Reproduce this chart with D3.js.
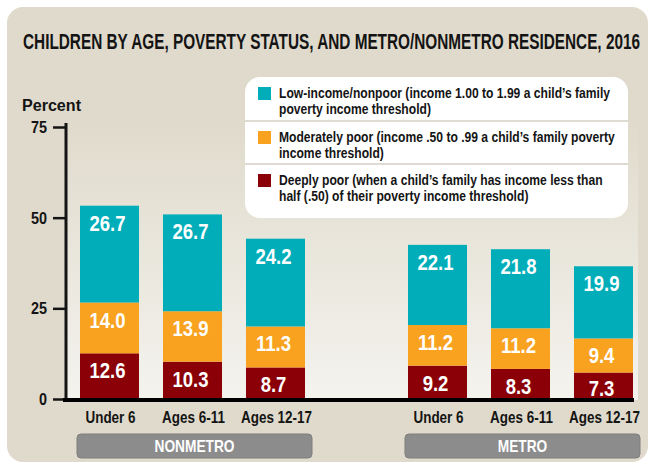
<!DOCTYPE html>
<html>
<head>
<meta charset="utf-8">
<script src="https://cdn.jsdelivr.net/npm/d3@7"></script>
<style>
  body { margin: 0; background: #fff; }
  svg { display: block; }
  text { font-family: "Liberation Sans", Arial, sans-serif; font-weight: bold; }
</style>
</head>
<body>
<svg width="650" height="466"></svg>
<script>
// chart data
var groups = ["NONMETRO", "METRO"];
var ages = ["Under 6", "Ages 6-11", "Ages 12-17"];
var deeplyPoor = [12.6, 10.3, 8.7, 9.2, 8.3, 7.3];
var moderatelyPoor = [14.0, 13.9, 11.3, 11.2, 11.2, 9.4];
var lowIncome = [26.7, 26.7, 24.2, 22.1, 21.8, 19.9];
var yTicks = [0, 25, 50, 75];
var seriesKeys = ["deep", "moderate", "low"];
var seriesColors = ["#8a0006", "#f8a21f", "#00adb9"];
var legendLines = [
    ["Low-income/nonpoor (income 1.00 to 1.99 a child\u2019s family", "poverty income threshold)"],
    ["Moderately poor (income .50 to .99 a child\u2019s family poverty", "income threshold)"],
    ["Deeply poor (when a child\u2019s family has income less than", "half (.50) of their poverty income threshold)"]
];
var legendColors = ["#00adb9", "#f8a21f", "#8a0006"];
var title = "CHILDREN BY AGE, POVERTY STATUS, AND METRO/NONMETRO RESIDENCE, 2016";

var rows = deeplyPoor.map(function(d, i) {
    return {
        group: groups[Math.floor(i / 3)],
        age: ages[i % 3],
        deep: deeplyPoor[i],
        moderate: moderatelyPoor[i],
        low: lowIncome[i]
    };
});

var svg = d3.select("svg");
var ink = "#141414";

// the original uses a condensed face, so measure a sample and squeeze to fit
function ratio(str, size, target) {
    var t = svg.append("text").attr("font-size", size).text(str);
    var w = t.node().getComputedTextLength();
    t.remove();
    return target / w;
}
function squeeze(sel, k) {
    sel.each(function() {
        var w = this.getComputedTextLength();
        d3.select(this).attr("textLength", w * k).attr("lengthAdjust", "spacingAndGlyphs");
    });
}

// beige panel + plot gradient
var defs = svg.append("defs");
var grad = defs.append("linearGradient").attr("id", "plotbg")
    .attr("x1", 0).attr("y1", 0).attr("x2", 0).attr("y2", 1);
grad.append("stop").attr("offset", "0%").attr("stop-color", "#dfdacb");
grad.append("stop").attr("offset", "100%").attr("stop-color", "#f4f3ee");

svg.append("rect").attr("x", 7).attr("y", 7).attr("width", 641).attr("height", 455)
    .attr("rx", 16).attr("fill", "#dfdacb");

// scales
var y = d3.scaleLinear().domain([0, 75]).range([399, 127]);
var xGroup = d3.scaleBand().domain(groups).range([80, 633]).paddingInner(0.314);
var xAge = d3.scaleBand().domain(ages).range([0, xGroup.bandwidth()]).paddingInner(0.289);
function xPos(d) { return xGroup(d.group) + xAge(d.age); }

svg.append("rect").attr("x", 66).attr("y", 118).attr("width", 572).attr("height", 282)
    .attr("fill", "url(#plotbg)");

// title
svg.append("text").attr("x", 23).attr("y", 49)
    .attr("font-size", 22).attr("fill", ink)
    .attr("textLength", 617).attr("lengthAdjust", "spacingAndGlyphs")
    .text(title);

svg.append("text").attr("x", 22).attr("y", 111)
    .attr("font-size", 16).attr("fill", ink).text("Percent")
    .call(squeeze, ratio("Percent", 16, 59));

// y axis
var yAxis = d3.axisLeft(y).tickValues(yTicks).tickSize(13).tickPadding(6);
var gy = svg.append("g").attr("transform", "translate(66,0)").call(yAxis);
gy.select(".domain").remove();
gy.selectAll(".tick line").attr("stroke", ink).attr("stroke-width", 2.5);
gy.selectAll(".tick text").attr("font-size", 17).attr("fill", ink)
    .attr("font-family", "Liberation Sans").attr("font-weight", "bold")
    .call(squeeze, ratio("75", 17, 16));
svg.append("line").attr("x1", 66).attr("x2", 66).attr("y1", 123).attr("y2", 400)
    .attr("stroke", ink).attr("stroke-width", 3);

// stacked bars
var stacked = d3.stack().keys(seriesKeys)(rows);
var layers = svg.selectAll("g.layer").data(stacked).enter().append("g")
    .attr("class", "layer")
    .attr("fill", function(d, i) { return seriesColors[i]; });

layers.selectAll("rect").data(function(d) { return d; }).enter().append("rect")
    .attr("x", function(d) { return xPos(d.data); })
    .attr("width", xAge.bandwidth())
    .attr("y", function(d) { return y(d[1]); })
    .attr("height", function(d) { return y(d[0]) - y(d[1]); });

var fmt = d3.format(".1f");
var valK = ratio("26.7", 22, 36);
layers.selectAll("text").data(function(d) { return d; }).enter().append("text")
    .attr("x", function(d) { return xPos(d.data) + xAge.bandwidth() / 2 - 2; })
    .attr("y", function(d) { return Math.min(y(d[1]) + 25, y(d[0]) - 3); })
    .attr("text-anchor", "middle")
    .attr("font-size", 22).attr("fill", "#fff")
    .text(function(d) { return fmt(d[1] - d[0]); })
    .call(squeeze, valK);

// baseline
svg.append("rect").attr("x", 63).attr("y", 398).attr("width", 571).attr("height", 4).attr("fill", "#000");

// category labels
svg.selectAll("text.cat").data(rows).enter().append("text")
    .attr("class", "cat")
    .attr("x", function(d) { return xPos(d) + xAge.bandwidth() / 2 + 1; })
    .attr("y", 423)
    .attr("text-anchor", "middle")
    .attr("font-size", 16).attr("fill", ink)
    .text(function(d) { return d.age; })
    .call(squeeze, ratio("Ages 12-17", 16, 71));

// group boxes
var gb = svg.selectAll("g.grp").data(groups).enter().append("g").attr("class", "grp");
gb.append("rect")
    .attr("x", function(d) { return xGroup(d) - 3; })
    .attr("y", 434).attr("width", xGroup.bandwidth() + 10).attr("height", 24)
    .attr("rx", 4).attr("fill", "#8c8c8c").attr("stroke", "#7f7f7f").attr("stroke-width", 1);
gb.append("text")
    .attr("x", function(d) { return xGroup(d) + xGroup.bandwidth() / 2 + 2; })
    .attr("y", 452)
    .attr("text-anchor", "middle")
    .attr("font-size", 17).attr("fill", "#fff")
    .text(function(d) { return d; })
    .call(squeeze, ratio("NONMETRO", 17, 80));

// legend
var lg = svg.append("g");
lg.append("rect").attr("x", 245).attr("y", 77).attr("width", 383).attr("height", 141)
    .attr("rx", 15).attr("fill", "#fff");
var rowTop = [77, 121, 164];
[121, 164].forEach(function(yy) {
    lg.append("line").attr("x1", 245).attr("x2", 628).attr("y1", yy).attr("y2", yy)
        .attr("stroke", "#dedbd2").attr("stroke-width", 2);
});
var legK = ratio(legendLines[0][0], 14.5, 331);
legendLines.forEach(function(lines, i) {
    var top = rowTop[i];
    lg.append("rect").attr("x", 258).attr("y", top + 10).attr("width", 13).attr("height", 13)
        .attr("fill", legendColors[i]);
    lines.forEach(function(line, j) {
        lg.append("text").attr("x", 279).attr("y", top + 21 + j * 15.5)
            .attr("font-size", 14.5).attr("fill", ink).text(line)
            .call(squeeze, legK);
    });
});
</script>
</body>
</html>
